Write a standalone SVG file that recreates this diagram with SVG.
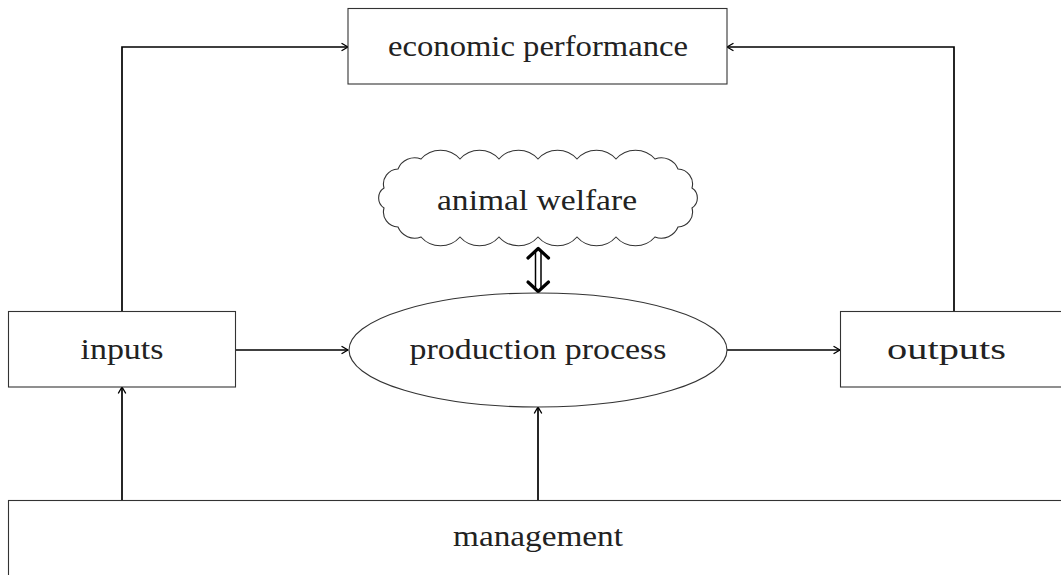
<svg xmlns="http://www.w3.org/2000/svg" width="1061" height="575" viewBox="0 0 1061 575">
<style>
.box{fill:#fff;stroke:#333;stroke-width:1.1}
.lbl{font-family:"Liberation Serif","DejaVu Serif",serif;font-size:30px;fill:#222;text-anchor:middle}
.con{fill:none;stroke:#000;stroke-width:1.7}
.dbl{fill:none;stroke:#000;stroke-width:1.5}
.chev{fill:none;stroke:#000;stroke-width:3.2;stroke-linecap:round;stroke-linejoin:round}
</style>
<defs>
<marker id="arr" viewBox="0 0 10 10" refX="9" refY="5" markerWidth="10" markerHeight="10" markerUnits="userSpaceOnUse" orient="auto">
<path d="M3,1.5 L9,5 L3,8.5" fill="none" stroke="#000" stroke-width="1.4" stroke-linecap="round" stroke-linejoin="round"/>
</marker>
</defs>
<rect width="1061" height="575" fill="#fff"/>
<g id="connectors">
<path class="con" d="M122,311 V47 H348" marker-end="url(#arr)"/>
<path class="con" d="M954,312 V47 H727" marker-end="url(#arr)"/>
<path class="con" d="M236,350 H348" marker-end="url(#arr)"/>
<path class="con" d="M727,350 H840" marker-end="url(#arr)"/>
<path class="con" d="M122,500 V387" marker-end="url(#arr)"/>
<path class="con" d="M538,500 V407" marker-end="url(#arr)"/>
<g id="double-arrow">
<line class="dbl" x1="535.5" y1="252" x2="535.5" y2="288"/>
<line class="dbl" x1="541" y1="252" x2="541" y2="288"/>
<path class="chev" d="M528,258 L538.2,248.5 L548.5,258"/>
<path class="chev" d="M528,282 L538.2,291.5 L548.5,282"/>
</g>
</g>
<g id="economic-performance">
<rect class="box" x="348" y="8.5" width="379" height="75.5"/>
<text class="lbl" x="538" y="56" textLength="300" lengthAdjust="spacingAndGlyphs">economic performance</text>
</g>
<g id="animal-welfare">
<path class="box" d="M655,159 A26,26 0 0 0 616,159 A26,26 0 0 0 577,159 A26,26 0 0 0 538,159 A26,26 0 0 0 499,159 A26,26 0 0 0 460,159 A26,26 0 0 0 421,159 A18,18 0 0 0 398,169 A15,15 0 0 0 384,188 A12,12 0 0 0 384,208 A15,15 0 0 0 398,227 A18,18 0 0 0 421,237 A26,26 0 0 0 460,237 A26,26 0 0 0 499,237 A26,26 0 0 0 538,237 A26,26 0 0 0 577,237 A26,26 0 0 0 616,237 A26,26 0 0 0 655,237 A18,18 0 0 0 678,227 A15,15 0 0 0 692,208 A12,12 0 0 0 692,188 A15,15 0 0 0 678,169 A18,18 0 0 0 655,159 Z"/>
<text class="lbl" x="537" y="210" textLength="200" lengthAdjust="spacingAndGlyphs">animal welfare</text>
</g>
<g id="inputs">
<rect class="box" x="8.5" y="311.5" width="227" height="75.5"/>
<text class="lbl" x="122" y="359" textLength="83" lengthAdjust="spacingAndGlyphs">inputs</text>
</g>
<g id="production-process">
<ellipse class="box" cx="538" cy="350" rx="189" ry="57"/>
<text class="lbl" x="538" y="359" textLength="257" lengthAdjust="spacingAndGlyphs">production process</text>
</g>
<g id="outputs">
<rect class="box" x="840.5" y="311.5" width="227" height="75.5"/>
<text class="lbl" x="946.5" y="359" textLength="119" lengthAdjust="spacingAndGlyphs">outputs</text>
</g>
<g id="management">
<rect class="box" x="8.5" y="500.5" width="1070" height="90"/>
<text class="lbl" x="538" y="546" textLength="170" lengthAdjust="spacingAndGlyphs">management</text>
</g>
</svg>
